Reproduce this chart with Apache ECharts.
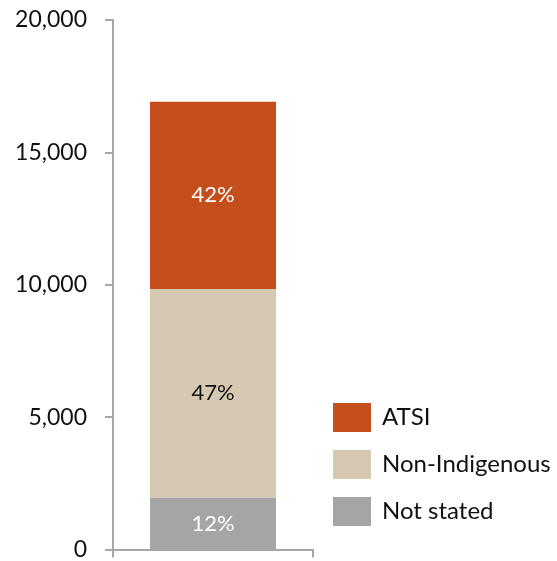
<!DOCTYPE html>
<html>
<head>
<meta charset="utf-8">
<script src="https://cdn.jsdelivr.net/npm/echarts@6/dist/echarts.min.js"></script>
<style>
  html, body { margin: 0; padding: 0; background: #fff; }
  #chart { width: 557px; height: 561px; }
</style>
</head>
<body>
<div id="chart"></div>
<script>
// Stacked column: counts by Indigenous status
const categories = ['Total'];
const notStated = [1960];
const nonIndigenous = [7880];
const atsi = [7070];
const yTicks = [0, 5000, 10000, 15000, 20000];

const total = notStated[0] + nonIndigenous[0] + atsi[0];
const pct = v => Math.round(v / total * 100) + '%';

const font = 'Lato, "Open Sans", sans-serif';
const axisColor = '#A6A6A6';

const chart = echarts.init(document.getElementById('chart'), null, { renderer: 'canvas' });

function barSeries(name, data, color, labelColor) {
  return {
    name: name,
    type: 'bar',
    stack: 'all',
    data: data,
    barWidth: '63%',
    itemStyle: { color: color },
    label: {
      show: true,
      position: 'inside',
      formatter: p => pct(p.value),
      color: labelColor,
      fontFamily: font,
      fontSize: 22
    },
    emphasis: { disabled: true }
  };
}

chart.setOption({
  animation: false,
  backgroundColor: '#fff',
  grid: { left: 113, right: 244, top: 20, bottom: 10, containLabel: false },
  legend: {
    orient: 'vertical',
    left: 333,
    top: 403,
    padding: 0,
    itemWidth: 38,
    itemHeight: 29,
    itemGap: 18,
    icon: 'rect',
    data: ['ATSI', 'Non-Indigenous', 'Not stated'],
    textStyle: { fontFamily: font, fontSize: 24, color: '#111', padding: [0, 0, 0, 6] }
  },
  xAxis: {
    type: 'category',
    data: categories,
    boundaryGap: true,
    axisLine: { show: true, lineStyle: { color: axisColor, width: 2 } },
    axisTick: { show: true, length: 8, lineStyle: { color: axisColor, width: 2 } },
    axisLabel: { show: false }
  },
  yAxis: {
    type: 'value',
    min: yTicks[0],
    max: yTicks[yTicks.length - 1],
    interval: yTicks[1] - yTicks[0],
    splitLine: { show: false },
    axisLine: { show: true, lineStyle: { color: axisColor, width: 2 } },
    axisTick: { show: true, length: 8, lineStyle: { color: axisColor, width: 2 } },
    axisLabel: {
      margin: 26,
      fontFamily: font,
      fontSize: 23,
      color: '#111',
      formatter: v => v.toLocaleString('en-US')
    }
  },
  series: [
    barSeries('Not stated', notStated, '#A5A5A5', '#fff'),
    barSeries('Non-Indigenous', nonIndigenous, '#D6C8B1', '#111'),
    barSeries('ATSI', atsi, '#C54F1C', '#fff')
  ]
});
</script>
</body>
</html>
